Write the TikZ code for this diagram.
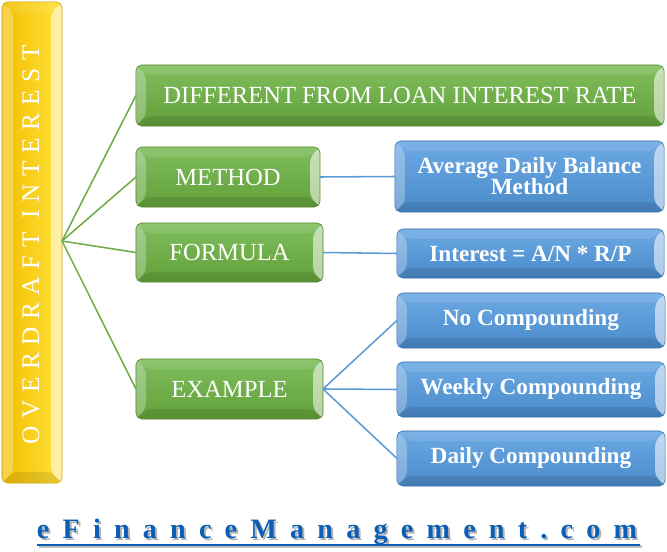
\documentclass[tikz,border=0pt]{standalone}
\usepackage{fontspec}
\setmainfont{Liberation Serif}
\usetikzlibrary{positioning}
\usetikzlibrary{calc}

\definecolor{grnline}{RGB}{112,173,71}
\definecolor{grntop}{RGB}{128,190,94}
\definecolor{grnbot}{RGB}{98,160,58}
\definecolor{grnedge}{RGB}{84,138,52}
\definecolor{blueline}{RGB}{91,155,213}
\definecolor{bluetop}{RGB}{108,170,228}
\definecolor{bluebot}{RGB}{74,138,202}
\definecolor{blueedge}{RGB}{58,112,168}
\definecolor{goldleft}{RGB}{243,190,0}
\definecolor{goldright}{RGB}{255,226,58}
\definecolor{goldedge}{RGB}{204,158,0}
\definecolor{sitecol}{RGB}{10,94,181}

\begin{document}
\begin{tikzpicture}[x=0.025cm, y=-0.025cm]
  % bevelled frame drawn inside every box
  \tikzset{bevel/.style={path picture={
    \fill[white,opacity=.28] (path picture bounding box.north west) -- ++(#1,-#1)
      -- ([shift={(#1,#1)}]path picture bounding box.south west) -- (path picture bounding box.south west) -- cycle;
    \fill[white,opacity=.55] (path picture bounding box.north east) -- ++(-#1,-#1)
      -- ([shift={(-#1,#1)}]path picture bounding box.south east) -- (path picture bounding box.south east) -- cycle;
    \fill[white,opacity=.10] (path picture bounding box.north west) -- ++(#1,-#1)
      -- ([shift={(-#1,-#1)}]path picture bounding box.north east) -- (path picture bounding box.north east) -- cycle;
    \fill[black,opacity=.10] (path picture bounding box.south west) -- ++(#1,#1)
      -- ([shift={(-#1,#1)}]path picture bounding box.south east) -- (path picture bounding box.south east) -- cycle;
  }}}
  % definition of the box styles.
  \tikzstyle{greenbox}=[rounded corners=4pt, draw=grnedge, top color=grntop, bottom color=grnbot,
    bevel=7pt, inner sep=0pt, outer sep=0pt, text=white, font=\fontsize{17.5}{20}\selectfont]
  \tikzstyle{bluebox}=[rounded corners=4pt, draw=blueedge, top color=bluetop, bottom color=bluebot,
    bevel=7pt, inner sep=0pt, outer sep=0pt, text=white, align=center,
    font=\fontsize{16.5}{17}\selectfont\bfseries]
  \tikzstyle{greenlink}=[draw=grnline, line width=1.1pt]
  \tikzstyle{bluelink}=[draw=blueline, line width=1.1pt]

  \useasboundingbox (0,0) rectangle (667,552);

  % The title bar
  \node[rounded corners=4pt, draw=goldedge, left color=goldleft, right color=goldright, bevel=8pt,
    minimum width=1.5cm, minimum height=12.025cm, outer sep=0pt] (title) at (32,242.5) {};
  \node[rotate=90, text=white, font=\fontsize{18}{20}\selectfont\addfontfeature{LetterSpace=30}]
    (titletext) at (31,245) {OVERDRAFT INTEREST};
  \coordinate (hub) at (62,241);

  % First level
  \node[greenbox, minimum width=13.2cm, minimum height=1.525cm] (diff) at (400,95.5)
    {DIFFERENT FROM LOAN INTEREST RATE};
  \node[greenbox, minimum width=4.6cm, minimum height=1.5cm] (method) at (228,177) {METHOD};
  \node[greenbox, minimum width=4.675cm, minimum height=1.475cm] (formula) at (229.5,252.5) {FORMULA};
  \node[greenbox, minimum width=4.675cm, minimum height=1.5cm] (example) at (229.5,389) {EXAMPLE};

  % Second level
  \node[bluebox, minimum width=6.725cm, minimum height=1.775cm] (avg) at (529.5,176.5)
    {Average Daily Balance\\[-2pt]Method};
  \node[bluebox, minimum width=6.675cm, minimum height=1.225cm] (calc) at (530.5,253.5)
    {Interest = A/N * R/P};
  \node[bluebox, minimum width=6.7cm, minimum height=1.375cm] (nocomp) at (531,320.5) {No Compounding};
  \node[bluebox, minimum width=6.7cm, minimum height=1.375cm] (weekly) at (531,389.5) {Weekly Compounding};
  \node[bluebox, minimum width=6.7cm, minimum height=1.375cm] (daily) at (531,458.5) {Daily Compounding};

  % connectors
  \foreach \n in {diff,method,formula,example}
    \draw[greenlink] (hub) -- (\n.west);
  \draw[bluelink] (method.east) -- (avg.west);
  \draw[bluelink] (formula.east) -- (calc.west);
  \foreach \n in {nocomp,weekly,daily}
    \draw[bluelink] (example.east) -- (\n.west);

  % web address, with its soft shadow
  \node[text=black!30, inner sep=0pt, font=\fontsize{20}{22}\selectfont\bfseries\addfontfeature{LetterSpace=47}]
    (siteshadow) at (339,534) {eFinanceManagement.com};
  \node[text=sitecol, inner sep=0pt, font=\fontsize{20}{22}\selectfont\bfseries\addfontfeature{LetterSpace=47}]
    (site) at (337,532) {eFinanceManagement.com};
  \coordinate (ulstart) at (37,545);
  \coordinate (ulend) at (640,545);
  \draw[black!25, line width=1.6pt] ($(ulstart)+(1.5,1.5)$) -- ($(ulend)+(1.5,1.5)$);
  \draw[sitecol, line width=1.6pt] (ulstart) -- (ulend);
\end{tikzpicture}
\end{document}
